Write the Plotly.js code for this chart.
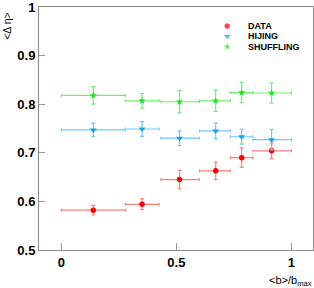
<!DOCTYPE html>
<html>
<head>
<meta charset="utf-8">
<script src="https://cdn.plot.ly/plotly-3.0.1.min.js"></script>
<style>html,body{margin:0;padding:0;background:#fff}#chart{width:314px;height:288px}</style>
</head>
<body>
<div id="chart"></div>
<script>
// bin centres <b>/bmax
var xCenters = [0.139, 0.351, 0.514, 0.671, 0.784, 0.914];
// bin edges
var xLow  = [0.0, 0.278, 0.433, 0.601, 0.735, 0.833];
var xHigh = [0.278, 0.425, 0.599, 0.735, 0.833, 1.0];

var dataY    = [0.582, 0.594, 0.645, 0.663, 0.690, 0.704];
var dataErr  = [0.010, 0.011, 0.019, 0.018, 0.020, 0.016];
var hijingY  = [0.747, 0.749, 0.730, 0.745, 0.733, 0.727];
var hijingErr= [0.014, 0.015, 0.015, 0.016, 0.015, 0.021];
var shufY    = [0.818, 0.807, 0.805, 0.807, 0.824, 0.823];
var shufErr  = [0.018, 0.015, 0.023, 0.022, 0.021, 0.021];

var legendNames = ["DATA", "HIJING", "SHUFFLING"];
var tickValsY = [0.5, 0.6, 0.7, 0.8, 0.9, 1];
var tickTextY = ["0.5", "0.6", "0.7", "0.8", "0.9", "1"];
var tickValsX = [0, 0.5, 1];
var tickTextX = ["0", "0.5", "1"];

var plus = xCenters.map(function(c,i){return xHigh[i]-c;});
var minus = xCenters.map(function(c,i){return c-xLow[i];});

function series(y, err, mcol, ecol, sym, size){
  return {
    x: xCenters, y: y, type: 'scatter', mode: 'markers',
    marker: {color: mcol, symbol: sym, size: size, line: {width: 0}},
    error_x: {type: 'data', symmetric: false, array: plus, arrayminus: minus, color: ecol, thickness: 1.2, width: 1.5},
    error_y: {type: 'data', array: err, color: ecol, thickness: 1.2, width: 2},
    showlegend: false, hoverinfo: 'skip'
  };
}

var colors = ['#ff0000', '#1a9ee8', '#22e022'];
var ecolors = ['#ff8080', '#70c8f8', '#70ee70'];
var syms = ['circle', 'triangle-down', 'star'];
var sizes = [5.5, 6, 5.5];

var traces = [
  series(dataY, dataErr, colors[0], ecolors[0], syms[0], sizes[0]),
  series(hijingY, hijingErr, colors[1], ecolors[1], syms[1], sizes[1]),
  series(shufY, shufErr, colors[2], ecolors[2], syms[2], sizes[2])
];

// legend symbols on an overlay axis
var legY = [0.922, 0.880, 0.837];
traces.push({
  x: [0.687, 0.687, 0.687], y: legY, xaxis: 'x2', yaxis: 'y2',
  type: 'scatter', mode: 'markers',
  marker: {color: colors, symbol: syms, size: sizes, line: {width: 0}},
  showlegend: false, hoverinfo: 'skip'
});

var font = 'Liberation Sans, Arial, Helvetica, sans-serif';
var annotations = legendNames.map(function(n, i){
  return {xref: 'paper', yref: 'paper', x: 0.755, y: legY[i], xanchor: 'left', yanchor: 'middle',
    text: '<b>' + n + '</b>', showarrow: false, font: {family: font, size: 9, color: '#000'}};
});
annotations.push({xref: 'paper', yref: 'paper', x: -0.118, y: 0.985, xanchor: 'center', yanchor: 'top',
  text: '&lt;Δ η&gt;', textangle: -90, showarrow: false, font: {family: font, size: 10.5, color: '#000'}});
annotations.push({xref: 'paper', yref: 'paper', x: 1.005, y: -0.128, xanchor: 'right', yanchor: 'middle',
  text: '&lt;b&gt;/b<sub>max</sub>', showarrow: false, font: {family: font, size: 11, color: '#000'}});

var axisCommon = {
  showgrid: false, zeroline: false, showline: true, mirror: true,
  linecolor: '#8c8c8c', linewidth: 1, ticks: 'inside', tickcolor: '#9a9a9a', tickwidth: 1,
  ticklabeloverflow: 'allow',
  tickfont: {family: font, size: 13, color: '#000', weight: 'bold'}
};

var layout = {
  width: 314, height: 288,
  margin: {l: 39, r: 1, t: 7, b: 38},
  paper_bgcolor: '#fff', plot_bgcolor: '#fff',
  showlegend: false,
  xaxis: Object.assign({}, axisCommon, {range: [-0.097, 1.094], tickvals: tickValsX, ticktext: tickTextX, ticklen: 7}),
  yaxis: Object.assign({}, axisCommon, {range: [0.5, 1], tickvals: tickValsY, ticktext: tickTextY, ticklen: 6}),
  xaxis2: {overlaying: 'x', range: [0, 1], visible: false, fixedrange: true},
  yaxis2: {overlaying: 'y', range: [0, 1], visible: false, fixedrange: true},
  annotations: annotations
};

Plotly.newPlot('chart', traces, layout, {staticPlot: true, displayModeBar: false});
</script>
</body>
</html>
